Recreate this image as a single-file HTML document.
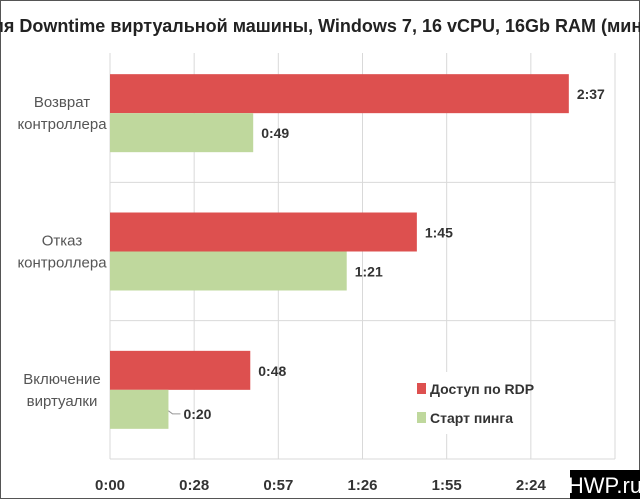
<!DOCTYPE html>
<html><head><meta charset="utf-8"><style>
body{margin:0;background:#fff}
svg{display:block;font-family:"Liberation Sans Narrow","Liberation Sans",sans-serif}
</style></head><body>
<svg id="c" width="640" height="499" viewBox="0 0 640 499">
<rect x="0.5" y="0.5" width="639" height="498" fill="#fff" stroke="#555"/>
<text x="320" y="32" text-anchor="middle" font-size="18" font-weight="bold" fill="#222">Время Downtime виртуальной машины, Windows 7, 16 vCPU, 16Gb RAM (мин:сек)</text>
<g id="grid"></g><g id="bars"></g><g id="labels"></g>
<g>
<rect x="375" y="372" width="120" height="62" fill="#fff"/>
<rect x="417" y="383" width="9" height="11" fill="#dd504f"/>
<text x="430" y="394" font-size="14" font-weight="bold" fill="#333">Доступ по RDP</text>
<rect x="417" y="412" width="9" height="11" fill="#bfd89d"/>
<text x="430" y="423" font-size="14" font-weight="bold" fill="#333">Старт пинга</text>
</g>
<rect x="570" y="470" width="70" height="29" fill="#000"/>
<text x="605" y="493" text-anchor="middle" font-size="22" fill="#fff">HWP.ru</text>
</svg>
<script>
const categories=[["Возврат","контроллера"],["Отказ","контроллера"],["Включение","виртуалки"]];
const rdpValues=[157,105,48];
const pingValues=[49,81,20];
const tickValues=[0,28.8,57.6,86.4,115.2,144,172.8];
const tickLabels=["0:00","0:28","0:57","1:26","1:55","2:24",""];
const NS="http://www.w3.org/2000/svg";
const L=110,R=615,T=44,B=459,MAX=172.8;
const x=v=>L+v/MAX*(R-L);
const bandH=(B-T)/categories.length;
function mk(tag,attrs,parent){const e=document.createElementNS(NS,tag);for(const k in attrs)e.setAttribute(k,attrs[k]);parent.appendChild(e);return e;}
function fmt(s){const m=Math.floor(s/60),r=Math.round(s%60);return m+":"+(r<10?"0":"")+r;}
const grid=document.getElementById("grid"),bars=document.getElementById("bars"),labels=document.getElementById("labels");
tickValues.forEach((v,i)=>{
  const l=mk("line",{x1:x(v),x2:x(v),y1:T+9,y2:B,stroke:"#d9d9d9","stroke-width":1},grid);
  
  
  if(tickLabels[i]){const t=mk("text",{x:x(v),y:490,"text-anchor":"middle","font-size":15,"font-weight":"bold",fill:"#333"},labels);t.textContent=tickLabels[i];
  
  }
});
for(let i=0;i<=categories.length;i++){
  const y=T+bandH*i;if(i==0)continue;
  const l=mk("line",{x1:L,x2:R,y1:y,y2:y,stroke:"#d9d9d9"},grid);
  
  
}
categories.forEach((c,i)=>{
  const cy=T+bandH*(i+0.5);
  const t=mk("text",{x:62,y:cy-6,"text-anchor":"middle","font-size":15,fill:"#555"},labels);
  
  
  c.forEach((s,j)=>{const ts=mk("tspan",{x:62,dy:j?22:0},t);ts.textContent=s;});
  const r=mk("rect",{x:L,y:cy-39,width:x(rdpValues[i])-L,height:39,fill:"#dd504f"},bars);
  
  
  const g=mk("rect",{x:L,y:cy,width:x(pingValues[i])-L,height:39,fill:"#bfd89d"},bars);
  
  
  const lr=mk("text",{x:x(rdpValues[i])+8,y:cy-14,"font-size":14,"font-weight":"bold",fill:"#333"},labels);lr.textContent=fmt(rdpValues[i]);
  
  
  const small=pingValues[i]<30;
  const gx=x(pingValues[i])+(small?15:8),gy=cy+(small?29:25);
  if(small){const ln=mk("polyline",{points:`${x(pingValues[i])},${cy+21} ${x(pingValues[i])+4},${cy+24} ${x(pingValues[i])+12},${cy+24}`,fill:"none",stroke:"#999"},labels);
  
  }
  const lg=mk("text",{x:gx,y:gy,"font-size":14,"font-weight":"bold",fill:"#333"},labels);lg.textContent=fmt(pingValues[i]);
  
  
});
const ax=mk("line",{x1:L,x2:R,y1:B,y2:B,stroke:"#d9d9d9"},grid);


</script>
</body></html>
